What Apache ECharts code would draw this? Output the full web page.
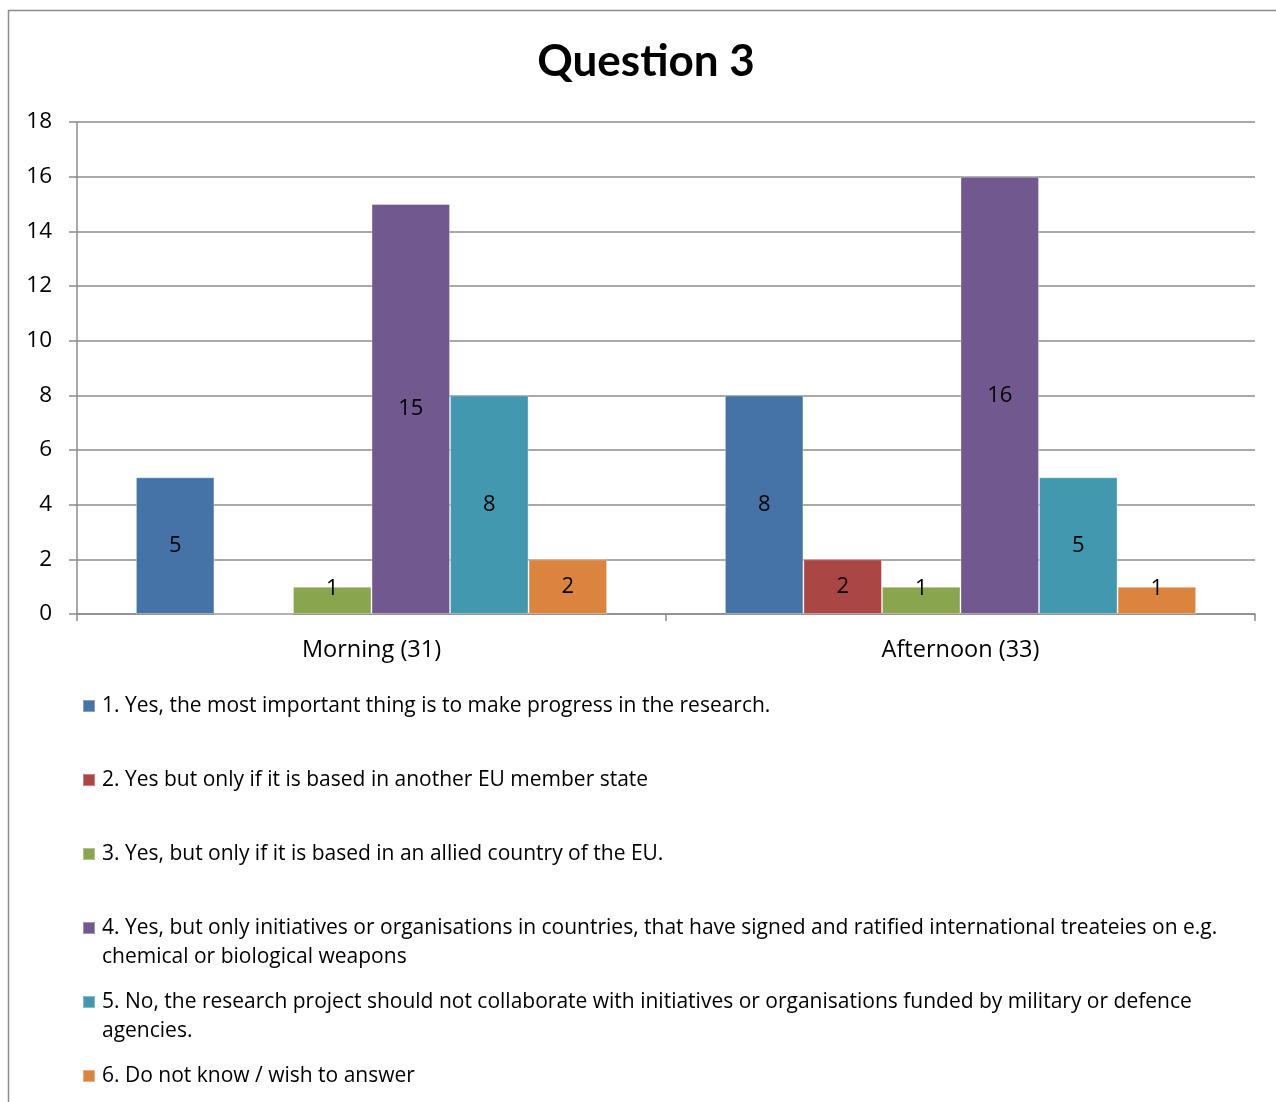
<!DOCTYPE html>
<html>
<head>
<meta charset="utf-8">
<title>Question 3</title>
<script src="https://cdn.jsdelivr.net/npm/echarts@6/dist/echarts.min.js"></script>
<style>
  html, body { margin: 0; padding: 0; background: #ffffff; }
  #chart { width: 1276px; height: 1102px; }
</style>
</head>
<body>
<div id="chart"></div>
<script>
// Sessions on the category axis
const categories = ['Morning (31)', 'Afternoon (33)'];

// Answer options (line breaks where the legend text wraps)
const answers = [
  '1. Yes, the most important thing is to make progress in the research.',
  '2. Yes but only if it is based in another EU member state',
  '3. Yes, but only if it is based in an allied country of the EU.',
  '4. Yes, but only initiatives or organisations in countries, that have signed and ratified international treateies on e.g.\nchemical or biological weapons',
  '5. No, the research project should not collaborate with initiatives or organisations funded by military or defence\nagencies.',
  '6. Do not know / wish to answer'
];

// Number of respondents per answer, [Morning, Afternoon]
const answer1 = [5, 8];
const answer2 = [0, 2];
const answer3 = [1, 1];
const answer4 = [15, 16];
const answer5 = [8, 5];
const answer6 = [2, 1];

// Value axis ticks
const yTicks = [0, 2, 4, 6, 8, 10, 12, 14, 16, 18];

const seriesValues = [answer1, answer2, answer3, answer4, answer5, answer6];
const colors = ['#4572A7', '#AA4643', '#89A54E', '#71588F', '#4198AF', '#DB843D'];

const FONT = '"Open Sans", Lato, sans-serif';
const TITLE_FONT = 'Lato, "Open Sans", sans-serif';
const LINE_H = 29;
const legendFirstLineY = [706, 780, 854, 928, 1002, 1076];

// Bars too short to hold their label get it centred on their top edge
const toBarItem = v => (v > 0 && v < 2
  ? { value: v, label: { position: ['50%', 0], align: 'center', verticalAlign: 'middle', offset: [0, 2] } }
  : v);

const chart = echarts.init(document.getElementById('chart'), null, { renderer: 'canvas' });

const option = {
  backgroundColor: '#ffffff',
  animation: false,
  color: colors,
  title: {
    text: 'Question 3',
    left: 641,
    top: 35,
    textAlign: 'center',
    textStyle: { fontFamily: TITLE_FONT, fontWeight: 'bold', fontSize: 44, color: '#000000' }
  },
  graphic: [{
    type: 'rect',
    shape: { x: 8.5, y: 10.5, width: 1400, height: 1200 },
    style: { fill: 'none', stroke: '#8c8c8c', lineWidth: 1.5 },
    silent: true
  }],
  grid: { left: 77, right: 21, top: 122, bottom: 488, containLabel: false },
  xAxis: {
    type: 'category',
    data: categories,
    axisLine: { show: true, lineStyle: { color: '#8c8c8c', width: 1.5 } },
    axisTick: { show: true, alignWithLabel: false, length: 7, lineStyle: { color: '#8c8c8c', width: 1.5 } },
    axisLabel: { fontFamily: FONT, fontSize: 23.5, color: '#000000', margin: 24 }
  },
  yAxis: {
    type: 'value',
    min: yTicks[0],
    max: yTicks[yTicks.length - 1],
    interval: yTicks[1] - yTicks[0],
    axisLine: { show: true, lineStyle: { color: '#8c8c8c', width: 1.5 } },
    axisTick: { show: true, length: 8, lineStyle: { color: '#8c8c8c', width: 1.5 } },
    axisLabel: { fontFamily: FONT, fontSize: 22.5, color: '#000000', margin: 25, padding: [3, 0, 0, 0] },
    splitLine: { show: true, lineStyle: { color: '#8c8c8c', width: 1.5 } }
  },
  legend: answers.map((name, i) => ({
    data: [name],
    orient: 'vertical',
    left: 82,
    // two-line entries get a blank line on top so the swatch sits beside the first line
    top: legendFirstLineY[i] - (name.includes('\n') ? 1.5 * LINE_H : 0.5 * LINE_H),
    padding: 0,
    icon: 'rect',
    itemWidth: 12,
    itemHeight: 12,
    selectedMode: false,
    formatter: n => (n.includes('\n') ? ' \n' + n : n),
    textStyle: {
      fontFamily: FONT, fontSize: 21, color: '#000000',
      lineHeight: LINE_H, padding: [0, 0, 0, 2]
    }
  })),
  series: answers.map((name, i) => ({
    name: name,
    type: 'bar',
    data: seriesValues[i].map(toBarItem),
    barGap: '0%',
    barCategoryGap: '20%',
    itemStyle: { color: colors[i], borderColor: 'rgba(255,255,255,0.35)', borderWidth: 1 },
    label: {
      show: true,
      position: 'inside',
      fontFamily: FONT,
      fontSize: 22,
      color: '#000000',
      formatter: p => (p.value === 0 ? '' : String(p.value))
    }
  }))
};

chart.setOption(option);
</script>
</body>
</html>
